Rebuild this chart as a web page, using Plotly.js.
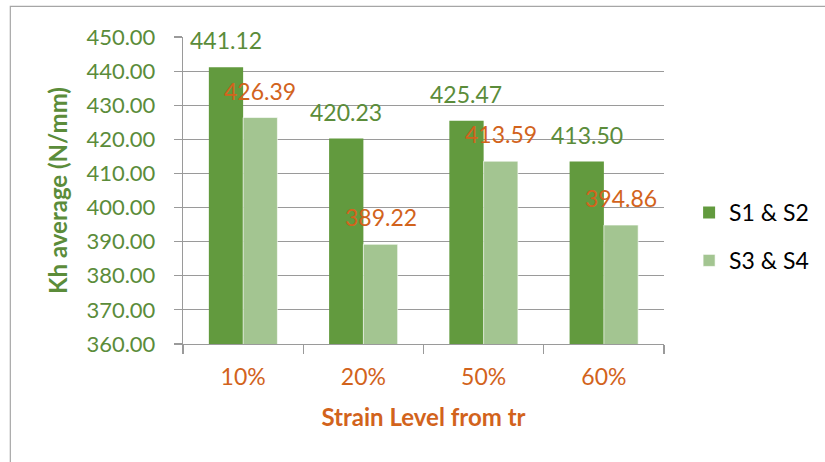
<!DOCTYPE html>
<html>
<head>
<meta charset="utf-8">
<script src="https://cdn.plot.ly/plotly-3.0.1.min.js"></script>
<style>
  html, body { margin: 0; padding: 0; background: #fff; }
  #chart { width: 825px; height: 462px; }
</style>
</head>
<body>
<div id="chart"></div>
<script>
// Strain levels and average horizontal stiffness per specimen pair
var strainLevels = ['10%', '20%', '50%', '60%'];
var seriesNames = ['S1 & S2', 'S3 & S4'];
var khS1S2 = [441.12, 420.23, 425.47, 413.50];
var khS3S4 = [426.39, 389.22, 413.59, 394.86];

var darkGreen = '#629a3e';
var lightGreen = '#a3c591';
var labelGreen = '#5b8c3a';
var orange = '#d2631c';
var gridGray = '#9a9a9a';
var font = 'Lato, "Open Sans", sans-serif';

var traces = [
  { type: 'bar', name: seriesNames[0], legendgroup: 'a', x: strainLevels, y: khS1S2,
    marker: { color: darkGreen }, hoverinfo: 'skip' },
  { type: 'bar', name: seriesNames[1], legendgroup: 'b', x: strainLevels, y: khS3S4,
    marker: { color: lightGreen, line: { color: '#ffffff', width: 0.6 } }, hoverinfo: 'skip' }
];

// value labels sit above each bar, centred on it
var annotations = [];
function addLabels(values, xshift, color) {
  values.forEach(function (v, i) {
    annotations.push({
      x: strainLevels[i], y: v, xref: 'x', yref: 'y',
      xshift: xshift, yshift: 27, yanchor: 'middle', xanchor: 'center',
      text: v.toFixed(2), showarrow: false,
      font: { family: font, size: 23, color: color }
    });
  });
}
addLabels(khS1S2, -17.3, labelGreen);
addLabels(khS3S4, 17.3, orange);

var layout = {
  width: 825, height: 462,
  margin: { l: 183, r: 160, t: 37, b: 118 },
  paper_bgcolor: '#ffffff', plot_bgcolor: '#ffffff',
  barmode: 'group', bargap: 0.43, bargroupgap: 0,
  font: { family: font },
  xaxis: {
    type: 'category',
    tickson: 'boundaries', ticks: 'outside', ticklen: 9, tickcolor: gridGray, tickwidth: 1.2,
    showline: true, linecolor: gridGray, linewidth: 1.2,
    showgrid: false,
    tickfont: { family: font, size: 23, color: orange },
    ticklabelstandoff: 12,
    title: { text: '<b>Strain Level from tr</b>', font: { family: font, size: 24, color: orange }, standoff: 20 }
  },
  yaxis: {
    range: [360, 450], dtick: 10, tickformat: '.2f',
    ticks: 'outside', ticklen: 8, tickcolor: gridGray, tickwidth: 1.2,
    showline: true, linecolor: gridGray, linewidth: 1.2,
    showgrid: true, gridcolor: gridGray, gridwidth: 1.2,
    zeroline: false,
    tickfont: { family: font, size: 22, color: labelGreen },
    ticklabelstandoff: 14,
    title: { text: '<b>Kh average (N/mm)</b>', font: { family: font, size: 24, color: labelGreen }, standoff: 12 }
  },
  showlegend: true,
  legend: {
    x: 1.05, xanchor: 'left', y: 0.35, yanchor: 'middle',
    font: { family: font, size: 23, color: '#000000' },
    itemwidth: 30, tracegroupgap: 15
  },
  annotations: annotations,
  shapes: [{
    type: 'rect', xref: 'paper', yref: 'paper', layer: 'below',
    x0: -0.359, x1: 1.6, y0: -0.6, y1: 1.0997,
    line: { color: '#a6a6a6', width: 1.2 }, fillcolor: 'rgba(0,0,0,0)'
  }]
};

Plotly.newPlot('chart', traces, layout, { staticPlot: true, displayModeBar: false });
</script>
</body>
</html>
